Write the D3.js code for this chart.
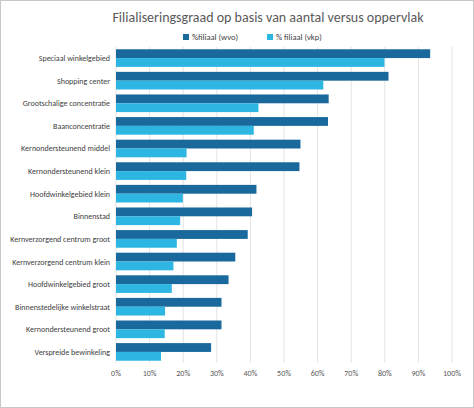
<!DOCTYPE html>
<html><head><meta charset="utf-8">
<script src="https://cdn.jsdelivr.net/npm/d3@7"></script>
<style>body{margin:0;background:#fff}svg{font-family:Calibri,Carlito,"Open Sans",sans-serif}</style>
</head><body><svg id="c" width="474" height="408"></svg>
<script>
var categories = ['Speciaal winkelgebied','Shopping center','Grootschalige concentratie','Baanconcentratie',
  'Kernondersteunend middel','Kernondersteunend klein','Hoofdwinkelgebied klein','Binnenstad',
  'Kernverzorgend centrum groot','Kernverzorgend centrum klein','Hoofdwinkelgebied groot',
  'Binnenstedelijke winkelstraat','Kernondersteunend groot','Verspreide bewinkeling'];
var wvo = [93.5,81.1,63.3,63.1,54.9,54.6,41.8,40.5,39.2,35.5,33.5,31.4,31.4,28.3];
var vkp = [79.9,61.7,42.4,41.0,21.0,20.9,19.9,19.1,18.1,17.1,16.6,14.6,14.5,13.4];
var ticks = [0,10,20,30,40,50,60,70,80,90,100];
var seriesNames = ['%filiaal (wvo)','% filiaal (vkp)'];
var colors = ['#19699c','#2db6e1'];

var svg = d3.select('#c');
svg.append('rect').attr('x',0.5).attr('y',0.5).attr('width',473).attr('height',407).attr('fill','#fff').attr('stroke','#c8c8c8');

var x = d3.scaleLinear().domain([0,100]).range([116,452]);
var y = d3.scaleBand().domain(categories).range([47,363]).paddingInner(0.22).paddingOuter(0.1);
var inner = d3.scaleBand().domain([0,1]).range([0,y.bandwidth()]);

svg.append('g').selectAll('line').data(ticks).join('line')
  .attr('x1',d=>x(d)).attr('x2',d=>x(d)).attr('y1',47).attr('y2',363)
  .attr('stroke','#e3e3e3');

svg.append('g').selectAll('text').data(ticks).join('text')
  .attr('x',d=>x(d)).attr('y',376).attr('text-anchor','middle')
  .attr('font-size',8).attr('fill','#595959').text(d=>d+'%');

[wvo,vkp].forEach(function(vals,s){
  svg.append('g').selectAll('rect').data(vals).join('rect')
    .attr('x',x(0)).attr('y',(d,i)=>y(categories[i])+inner(s))
    .attr('width',d=>x(d)-x(0)).attr('height',inner.bandwidth())
    .attr('fill',colors[s]);
});

svg.append('g').selectAll('text').data(categories).join('text')
  .attr('x',110).attr('y',d=>y(d)+y.bandwidth()/2+3)
  .attr('text-anchor','end').attr('font-size',8).attr('fill','#404040').text(d=>d);

svg.append('text').attr('x',268).attr('y',22).attr('text-anchor','middle')
  .attr('font-size',14).attr('fill','#595959').text('Filialiseringsgraad op basis van aantal versus oppervlak');

var lg = svg.append('g');
seriesNames.forEach(function(n,i){
  var lx = [183,267][i];
  lg.append('rect').attr('x',lx).attr('y',34).attr('width',6).attr('height',6).attr('fill',colors[i]);
  lg.append('text').attr('x',lx+9).attr('y',40).attr('font-size',8.5).attr('fill','#404040').text(n);
});
</script></body></html>
